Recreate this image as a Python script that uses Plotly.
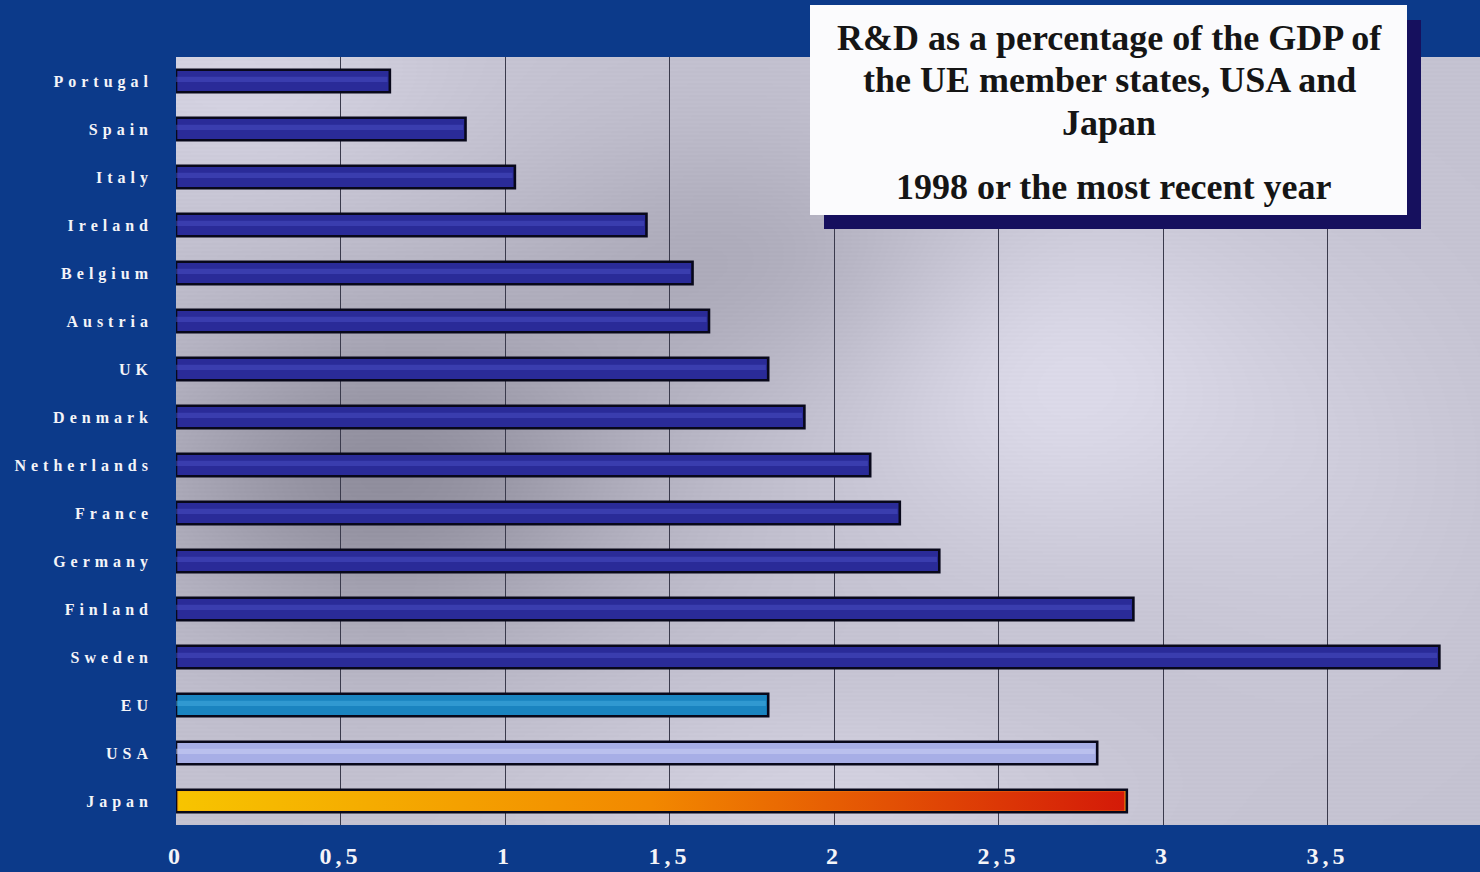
import base64
import struct
import zlib

import numpy as np
import plotly.graph_objects as go

# R&D expenditure as % of GDP, listed top to bottom
countries = ["Portugal", "Spain", "Italy", "Ireland", "Belgium", "Austria", "UK",
             "Denmark", "Netherlands", "France", "Germany", "Finland", "Sweden",
             "EU", "USA", "Japan"]
rd_share = [0.65, 0.88, 1.03, 1.43, 1.57, 1.62, 1.80, 1.91, 2.11, 2.20, 2.32,
            2.91, 3.84, 1.80, 2.80, 2.89]
x_ticks = [0, 0.5, 1, 1.5, 2, 2.5, 3, 3.5]
x_tick_labels = ["0", "0,5", "1", "1,5", "2", "2,5", "3", "3,5"]

title_lines = ["R&D as a percentage of the GDP of",
               "the UE member states, USA and",
               "Japan"]
subtitle = "1998 or the most recent year"

# ---- page geometry (pixels) ----
W, H = 1480, 872
PL, PR, PT, PB = 176, 0, 57, 47
plot_w = W - PL - PR
plot_h = H - PT - PB


def px(x):
    return (x - PL) / plot_w


def py(y):
    return (H - PB - y) / plot_h


# ---- colours ----
NAVY = "#2a2b98"
NAVY_HI = "#4a4fc4"
bar_colors = [NAVY] * 13 + ["#1a84c0", "#a7aee6", "#f39a0c"]
hi_colors = [NAVY_HI] * 13 + ["#45aee2", "#cdd1f6", "rgba(0,0,0,0)"]


# ---- silvery plot-area backdrop as an embedded PNG ----
def png_data_uri(rgb):
    h, w, _ = rgb.shape
    raw = b"".join(b"\x00" + rgb[r].tobytes() for r in range(h))

    def chunk(tag, data):
        c = struct.pack(">I", len(data)) + tag + data
        return c + struct.pack(">I", zlib.crc32(tag + data) & 0xFFFFFFFF)

    png = (b"\x89PNG\r\n\x1a\n"
           + chunk(b"IHDR", struct.pack(">IIBBBBB", w, h, 8, 2, 0, 0, 0))
           + chunk(b"IDAT", zlib.compress(raw, 9))
           + chunk(b"IEND", b""))
    return "data:image/png;base64," + base64.b64encode(png).decode()


gw, gh = plot_w // 2, plot_h // 2
gx = (np.arange(gw) + 0.5) * 2
gy = (np.arange(gh) + 0.5) * 2
X, Y = np.meshgrid(gx, gy)
v = np.full(X.shape, 198.0)
v -= 52 * np.exp(-(((X - 210) / 250) ** 2 + ((Y - 420) / 170) ** 2))
v -= 22 * np.exp(-(((X - 560) / 230) ** 2 + ((Y - 200) / 130) ** 2))
v += 16 * np.exp(-(((X - 60) / 200) ** 2 + ((Y - 20) / 120) ** 2))
v += 24 * np.exp(-(((X - 880) / 200) ** 2 + ((Y - 320) / 170) ** 2))
v += 14 * np.exp(-(((X - 650) / 260) ** 2 + ((Y - 740) / 90) ** 2))
v += 8 * np.exp(-(((X - 1150) / 160) ** 2 + ((Y - 420) / 200) ** 2))
# fine horizontal ribbing
v += np.where((np.arange(gh)[:, None] % 2) == 0, 2.5, -2.5)
r = np.clip(v - 1, 0, 255)
g = np.clip(v - 3, 0, 255)
b = np.clip(v + 12, 0, 255)
bg_img = np.stack([r, g, b], axis=-1).astype(np.uint8)

fig = go.Figure()

ypos = list(range(len(countries)))

fig.add_trace(go.Bar(
    x=rd_share, y=ypos, orientation="h", width=0.47,
    marker=dict(color=bar_colors, line=dict(color="#08081a", width=2.6)),
    hoverinfo="x+text", text=countries, textposition="none",
))
fig.add_trace(go.Bar(
    x=[val - 0.007 for val in rd_share], y=ypos, orientation="h", width=0.11,
    offset=-0.09, marker=dict(color=hi_colors, line=dict(width=0), opacity=0.5),
    hoverinfo="skip",
))

# Japan bar: yellow-to-red gradient fill inside its outline
jp = countries.index("Japan")
jv = rd_share[jp]
fig.add_trace(go.Scatter(
    x=[0.007, jv - 0.007, jv - 0.007, 0.007, 0.007],
    y=[jp - 0.205, jp - 0.205, jp + 0.205, jp + 0.205, jp - 0.205],
    mode="lines", line=dict(width=0), fill="toself",
    fillgradient=dict(type="horizontal",
                      colorscale=[[0, "#f7c400"], [0.5, "#f28800"],
                                  [1, "#d41a08"]]),
    hoverinfo="skip", showlegend=False,
))

serif = "Liberation Serif, Times New Roman, serif"
title_font = dict(family=serif, size=36, color="#151515", weight="bold")

shapes = [
    # title box shadow and face
    dict(type="rect", xref="paper", yref="paper",
         x0=px(824), x1=px(1421), y0=py(229), y1=py(20),
         fillcolor="#16105e", line=dict(width=0), layer="above"),
    dict(type="rect", xref="paper", yref="paper",
         x0=px(810), x1=px(1407), y0=py(215), y1=py(5),
         fillcolor="#fbfbfd", line=dict(width=0), layer="above"),
]

annotations = []
for line, yc in zip(title_lines, [38, 80, 123]):
    annotations.append(dict(xref="paper", yref="paper", x=px(1109), y=py(yc),
                            text=line, showarrow=False, font=title_font,
                            xanchor="center", yanchor="middle"))
annotations.append(dict(xref="paper", yref="paper", x=px(1114), y=py(187),
                        text=subtitle, showarrow=False, font=title_font,
                        xanchor="center", yanchor="middle"))

fig.update_layout(
    width=W, height=H,
    margin=dict(l=PL, r=PR, t=PT, b=PB, pad=0),
    paper_bgcolor="#0c3a8a",
    plot_bgcolor="rgba(0,0,0,0)",
    barmode="overlay",
    showlegend=False,
    shapes=shapes,
    annotations=annotations,
    images=[dict(source=png_data_uri(bg_img), xref="paper", yref="paper",
                 x=0, y=1, sizex=1, sizey=1, sizing="stretch",
                 xanchor="left", yanchor="top", layer="below")],
    xaxis=dict(range=[0, plot_w / 329.0], tickvals=x_ticks, ticktext=x_tick_labels,
               showgrid=True, gridcolor="#3a3a4c", gridwidth=1,
               zeroline=False, showline=False, ticks="",
               ticklabelstandoff=14,
               tickfont=dict(family=serif, size=24, color="#f4f4f8", weight="bold")),
    yaxis=dict(range=[len(countries) - 0.5, -0.5], tickvals=ypos, ticktext=countries,
               showgrid=False, zeroline=False, showline=False, ticks="",
               ticklabelstandoff=22,
               tickfont=dict(family=serif, size=16, color="#f4f4f8", weight="bold")),
)

# widen the tracking of the axis labels
spacing_js = """
var gd = document.getElementById('{plot_id}');
function track() {
  gd.querySelectorAll('.ytick text').forEach(function (t) {
    t.style.letterSpacing = '5px';
  });
  gd.querySelectorAll('.xtick text').forEach(function (t) {
    t.style.letterSpacing = '4px';
  });
}
track();
gd.on('plotly_afterplot', track);
"""

fig.write_html("out.html", post_script=spacing_js)
